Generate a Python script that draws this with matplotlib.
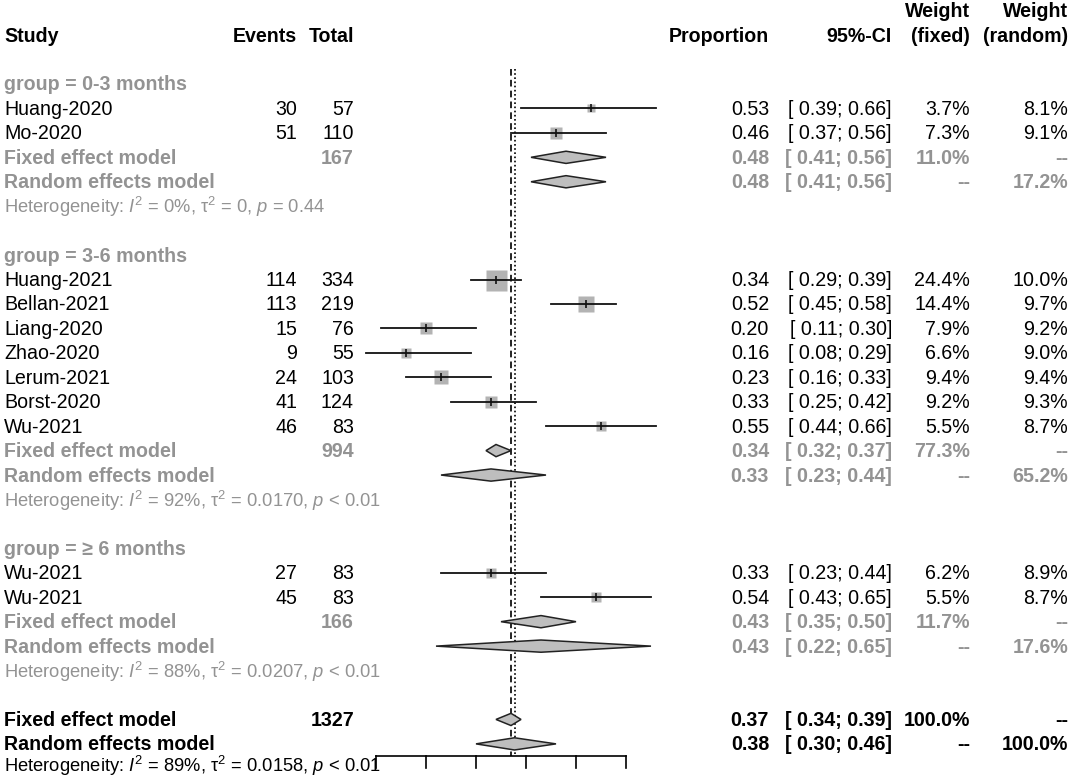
import matplotlib.pyplot as plt
from matplotlib.patches import Polygon

plt.rcParams['font.family'] = ['Liberation Sans', 'DejaVu Sans']
plt.rcParams['mathtext.fontset'] = 'custom'
plt.rcParams['mathtext.rm'] = 'Liberation Sans'
plt.rcParams['mathtext.it'] = 'Liberation Sans:italic'
plt.rcParams['mathtext.bf'] = 'Liberation Sans:bold'

# ---- data ----
group_names = ['0-3 months', '3-6 months', '\u2265 6 months']
studies = [['Huang-2020', 'Mo-2020'],
           ['Huang-2021', 'Bellan-2021', 'Liang-2020', 'Zhao-2020', 'Lerum-2021', 'Borst-2020', 'Wu-2021'],
           ['Wu-2021', 'Wu-2021']]
events = [[30, 51], [114, 113, 15, 9, 24, 41, 46], [27, 45]]
totals = [[57, 110], [334, 219, 76, 55, 103, 124, 83], [83, 83]]
props = [[0.53, 0.46], [0.34, 0.52, 0.20, 0.16, 0.23, 0.33, 0.55], [0.33, 0.54]]
lower = [[0.39, 0.37], [0.29, 0.45, 0.11, 0.08, 0.16, 0.25, 0.44], [0.23, 0.43]]
upper = [[0.66, 0.56], [0.39, 0.58, 0.30, 0.29, 0.33, 0.42, 0.66], [0.44, 0.65]]
w_fixed = [[3.7, 7.3], [24.4, 14.4, 7.9, 6.6, 9.4, 9.2, 5.5], [6.2, 5.5]]
w_random = [[8.1, 9.1], [10.0, 9.7, 9.2, 9.0, 9.4, 9.3, 8.7], [8.9, 8.7]]

sub_total = [167, 994, 166]
sub_fixed = [0.48, 0.34, 0.43]
sub_fixed_lo = [0.41, 0.32, 0.35]
sub_fixed_hi = [0.56, 0.37, 0.50]
sub_random = [0.48, 0.33, 0.43]
sub_random_lo = [0.41, 0.23, 0.22]
sub_random_hi = [0.56, 0.44, 0.65]
sub_wfix = [11.0, 77.3, 11.7]
sub_wran = [17.2, 65.2, 17.6]
sub_i2 = [0, 92, 88]
sub_tau2 = ['0', '0.0170', '0.0207']
sub_p = ['= 0.44', '< 0.01', '< 0.01']

all_total = 1327
all_fixed, all_fixed_lo, all_fixed_hi = 0.370, 0.34, 0.39
all_random, all_random_lo, all_random_hi = 0.377, 0.30, 0.46
all_i2, all_tau2, all_p = 89, '0.0158', '< 0.01'

ticks = [0.1, 0.2, 0.3, 0.4, 0.5, 0.6]

# ---- layout ----
W, H = 1073, 779
fig = plt.figure(figsize=(W / 100, H / 100), dpi=100)
ax = fig.add_axes([0, 0, 1, 1])
px_per_unit = 500
x0_px = 376  # pixel of 0.1
ax.set_xlim(0.1 - x0_px / px_per_unit, 0.1 + (W - x0_px) / px_per_unit)
row_h = 24.44
ax.set_ylim(2 + (H - 84) / row_h, 2 - 84 / row_h)
ax.axis('off')

GRAY = '#939393'
SQ = '#b3b3b3'
DIA = '#bebebe'
FS = 14.1
FS_HET = 13.2

col_x = {'study': 4, 'events': 297, 'total': 354, 'prop': 769, 'ci': 892, 'wf': 970, 'wr': 1068}
tr = ax.get_yaxis_transform()  # x in axes fraction, y in data


def put(col, row, s, color='black', bold=False, ha='right', fs=FS):
    ax.text(col_x[col] / W, row + 0.04, s, transform=tr, ha=ha, va='center', fontsize=fs,
            color=color, fontweight='bold' if bold else 'normal')


def ci_str(lo, hi):
    return '[ %.2f; %.2f]' % (lo, hi)


def het_str(i2, tau2, p):
    return 'Heterogeneity: $\\mathit{I}^2$ = %d%%, \u03c4$^2$ = %s, $\\mathit{p}$ %s' % (i2, tau2, p)


def diamond(est, lo, hi, row, half=0.25):
    ax.add_patch(Polygon([(lo, row), (est, row - half), (hi, row), (est, row + half)],
                         closed=True, facecolor=DIA, edgecolor='#222222', lw=1.1, zorder=3))


# header
put('study', 0, 'Study', bold=True, ha='left')
put('events', 0, 'Events', bold=True)
put('total', 0, 'Total', bold=True)
put('prop', 0, 'Proportion', bold=True)
put('ci', 0, '95%-CI', bold=True)
put('wf', 0, '(fixed)', bold=True)
put('wr', 0, '(random)', bold=True)
put('wf', -1, 'Weight', bold=True)
put('wr', -1, 'Weight', bold=True)

max_w = max(max(w) for w in w_fixed)
row = 2
for g in range(len(group_names)):
    put('study', row, 'group = ' + group_names[g], color=GRAY, bold=True, ha='left')
    row += 1
    for i in range(len(studies[g])):
        put('study', row, studies[g][i], ha='left')
        put('events', row, str(events[g][i]))
        put('total', row, str(totals[g][i]))
        put('prop', row, '%.2f' % props[g][i])
        put('ci', row, ci_str(lower[g][i], upper[g][i]))
        put('wf', row, '%.1f%%' % w_fixed[g][i])
        put('wr', row, '%.1f%%' % w_random[g][i])
        side = 21 * (w_fixed[g][i] / max_w) ** 0.5 * 0.72
        ax.plot([props[g][i]], [row], marker='s', ms=side, mfc=SQ, mec='none', zorder=2)
        ax.plot([lower[g][i], upper[g][i]], [row, row], color='#111111', lw=1.3, zorder=3,
                clip_on=False)
        ax.plot([props[g][i]], [row], marker='|', ms=6, mew=1.2, color='#111111', zorder=4)
        row += 1
    # fixed effect
    put('study', row, 'Fixed effect model', color=GRAY, bold=True, ha='left')
    put('total', row, str(sub_total[g]), color=GRAY, bold=True)
    put('prop', row, '%.2f' % sub_fixed[g], color=GRAY, bold=True)
    put('ci', row, ci_str(sub_fixed_lo[g], sub_fixed_hi[g]), color=GRAY, bold=True)
    put('wf', row, '%.1f%%' % sub_wfix[g], color=GRAY, bold=True)
    put('wr', row, '--', color=GRAY, bold=True)
    diamond(sub_fixed[g], sub_fixed_lo[g], sub_fixed_hi[g], row)
    row += 1
    # random effects
    put('study', row, 'Random effects model', color=GRAY, bold=True, ha='left')
    put('prop', row, '%.2f' % sub_random[g], color=GRAY, bold=True)
    put('ci', row, ci_str(sub_random_lo[g], sub_random_hi[g]), color=GRAY, bold=True)
    put('wf', row, '--', color=GRAY, bold=True)
    put('wr', row, '%.1f%%' % sub_wran[g], color=GRAY, bold=True)
    diamond(sub_random[g], sub_random_lo[g], sub_random_hi[g], row)
    row += 1
    put('study', row, het_str(sub_i2[g], sub_tau2[g], sub_p[g]), color=GRAY, ha='left', fs=FS_HET)
    row += 2

# overall
put('study', row, 'Fixed effect model', bold=True, ha='left')
put('total', row, str(all_total), bold=True)
put('prop', row, '%.2f' % all_fixed, bold=True)
put('ci', row, ci_str(all_fixed_lo, all_fixed_hi), bold=True)
put('wf', row, '100.0%', bold=True)
put('wr', row, '--', bold=True)
diamond(all_fixed, all_fixed_lo, all_fixed_hi, row)
row += 1
put('study', row, 'Random effects model', bold=True, ha='left')
put('prop', row, '%.2f' % all_random, bold=True)
put('ci', row, ci_str(all_random_lo, all_random_hi), bold=True)
put('wf', row, '--', bold=True)
put('wr', row, '100.0%', bold=True)
diamond(all_random, all_random_lo, all_random_hi, row)
row += 1
# last line sits at the bottom edge; nudge it up so it stays inside the frame
put('study', row - 0.12, het_str(all_i2, all_tau2, all_p), ha='left', fs=FS_HET)

# reference lines and bottom axis
axis_row = row - 0.5
ax.plot([all_fixed, all_fixed], [1.4, axis_row], color='black', lw=1.2, ls=(0, (4, 2.5)), zorder=1)
ax.plot([all_random, all_random], [1.4, axis_row], color='black', lw=1.2, ls=(0, (1, 1.5)), zorder=1)
ax.plot([ticks[0], ticks[-1]], [axis_row, axis_row], color='black', lw=1.2)
for t in ticks:
    ax.plot([t, t], [axis_row, axis_row + 0.5], color='black', lw=1.2)

fig.savefig('out.png', dpi=100)
